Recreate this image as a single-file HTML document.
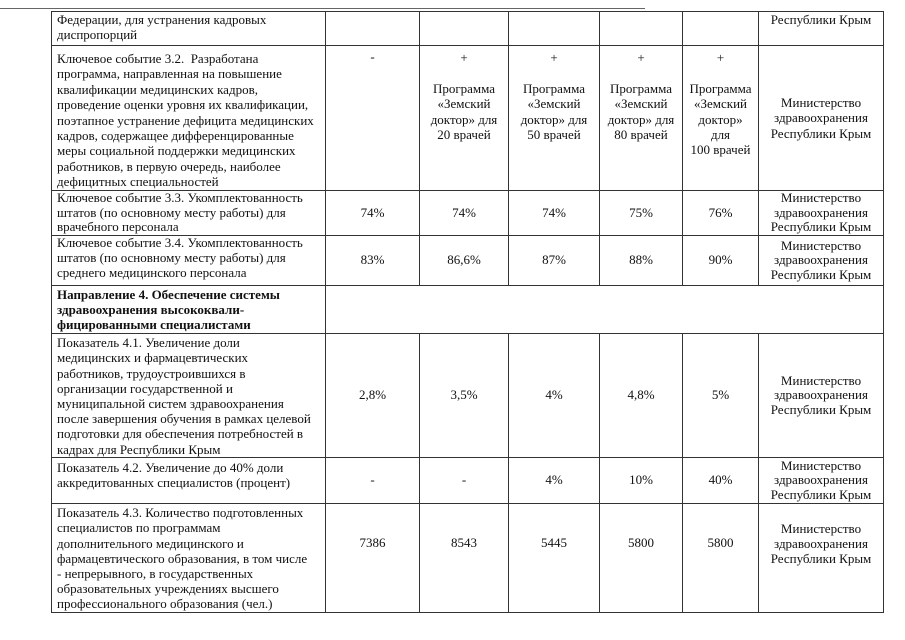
<!DOCTYPE html>
<html><head><meta charset="utf-8">
<style>
html,body{margin:0;padding:0;background:#fff;width:905px;height:640px;overflow:hidden}
body{position:relative;font-family:"Liberation Serif","DejaVu Serif",serif;font-size:13px;line-height:14.7px;color:#111}
.topline{position:absolute;left:0;top:8px;width:645px;height:1px;background:#666}
table{position:absolute;left:51px;top:11px;width:832px;border-collapse:collapse;table-layout:fixed}
td{border:1px solid #333;padding:0 1px;vertical-align:middle;text-align:center;overflow:hidden;white-space:nowrap}
td.l{text-align:left;vertical-align:top;padding:0 1px 0 5px}
td.t{vertical-align:top}
b{font-weight:bold}
</style></head><body>
<div class="topline"></div>
<table>
<colgroup><col style="width:274px"><col style="width:94px"><col style="width:89px"><col style="width:91px"><col style="width:83px"><col style="width:76px"><col style="width:125px"></colgroup>
<tr style="height:34px"><td class="l" style="padding-top:1px">Федерации, для устранения кадровых<br>диспропорций</td><td></td><td></td><td></td><td></td><td></td><td class="t" style="padding-top:1px">Республики Крым</td></tr>
<tr style="height:145px"><td class="l" style="padding-top:5px;line-height:15.4px">Ключевое событие 3.2.&nbsp; Разработана<br>программа, направленная на повышение<br>квалификации медицинских кадров,<br>проведение оценки уровня их квалификации,<br>поэтапное устранение дефицита медицинских<br>кадров, содержащее дифференцированные<br>меры социальной поддержки медицинских<br>работников, в первую очередь, наиболее<br>дефицитных специальностей</td>
<td class="t" style="padding-top:4px">-</td>
<td class="t" style="padding-top:4px;line-height:15.4px">+<br><br>Программа<br>«Земский<br>доктор» для<br>20 врачей</td>
<td class="t" style="padding-top:4px;line-height:15.4px">+<br><br>Программа<br>«Земский<br>доктор» для<br>50 врачей</td>
<td class="t" style="padding-top:4px;line-height:15.4px">+<br><br>Программа<br>«Земский<br>доктор» для<br>80 врачей</td>
<td class="t" style="padding-top:4px;line-height:15.4px">+<br><br>Программа<br>«Земский<br>доктор»<br>для<br>100 врачей</td>
<td style="line-height:15.4px">Министерство<br>здравоохранения<br>Республики Крым</td></tr>
<tr style="height:45px"><td class="l">Ключевое событие 3.3. Укомплектованность<br>штатов (по основному месту работы) для<br>врачебного персонала</td><td>74%</td><td>74%</td><td>74%</td><td>75%</td><td>76%</td><td>Министерство<br>здравоохранения<br>Республики Крым</td></tr>
<tr style="height:50px"><td class="l">Ключевое событие 3.4. Укомплектованность<br>штатов (по основному месту работы) для<br>среднего медицинского персонала</td><td>83%</td><td>86,6%</td><td>87%</td><td>88%</td><td>90%</td><td>Министерство<br>здравоохранения<br>Республики Крым</td></tr>
<tr style="height:48px"><td class="l" style="padding-top:2px"><b>Направление 4. Обеспечение системы<br>здравоохранения высококвали-<br>фицированными специалистами</b></td><td colspan="6"></td></tr>
<tr style="height:124px"><td class="l" style="padding-top:1px;line-height:15.2px">Показатель 4.1. Увеличение доли<br>медицинских и фармацевтических<br>работников, трудоустроившихся в<br>организации государственной и<br>муниципальной систем здравоохранения<br>после завершения обучения в рамках целевой<br>подготовки для обеспечения потребностей в<br>кадрах для Республики Крым</td><td>2,8%</td><td>3,5%</td><td>4%</td><td>4,8%</td><td>5%</td><td>Министерство<br>здравоохранения<br>Республики Крым</td></tr>
<tr style="height:46px"><td class="l" style="padding-top:3px">Показатель 4.2. Увеличение до 40% доли<br>аккредитованных специалистов (процент)</td><td>-</td><td>-</td><td>4%</td><td>10%</td><td>40%</td><td>Министерство<br>здравоохранения<br>Республики Крым</td></tr>
<tr style="height:109px"><td class="l" style="padding-top:1px;line-height:15.2px">Показатель 4.3. Количество подготовленных<br>специалистов по программам<br>дополнительного медицинского и<br>фармацевтического образования, в том числе<br>- непрерывного, в государственных<br>образовательных учреждениях высшего<br>профессионального образования (чел.)</td><td style="vertical-align:top;padding-top:32px">7386</td><td style="vertical-align:top;padding-top:32px">8543</td><td style="vertical-align:top;padding-top:32px">5445</td><td style="vertical-align:top;padding-top:32px">5800</td><td style="vertical-align:top;padding-top:32px">5800</td><td style="vertical-align:top;padding-top:18px">Министерство<br>здравоохранения<br>Республики Крым</td></tr>
</table>
</body></html>
